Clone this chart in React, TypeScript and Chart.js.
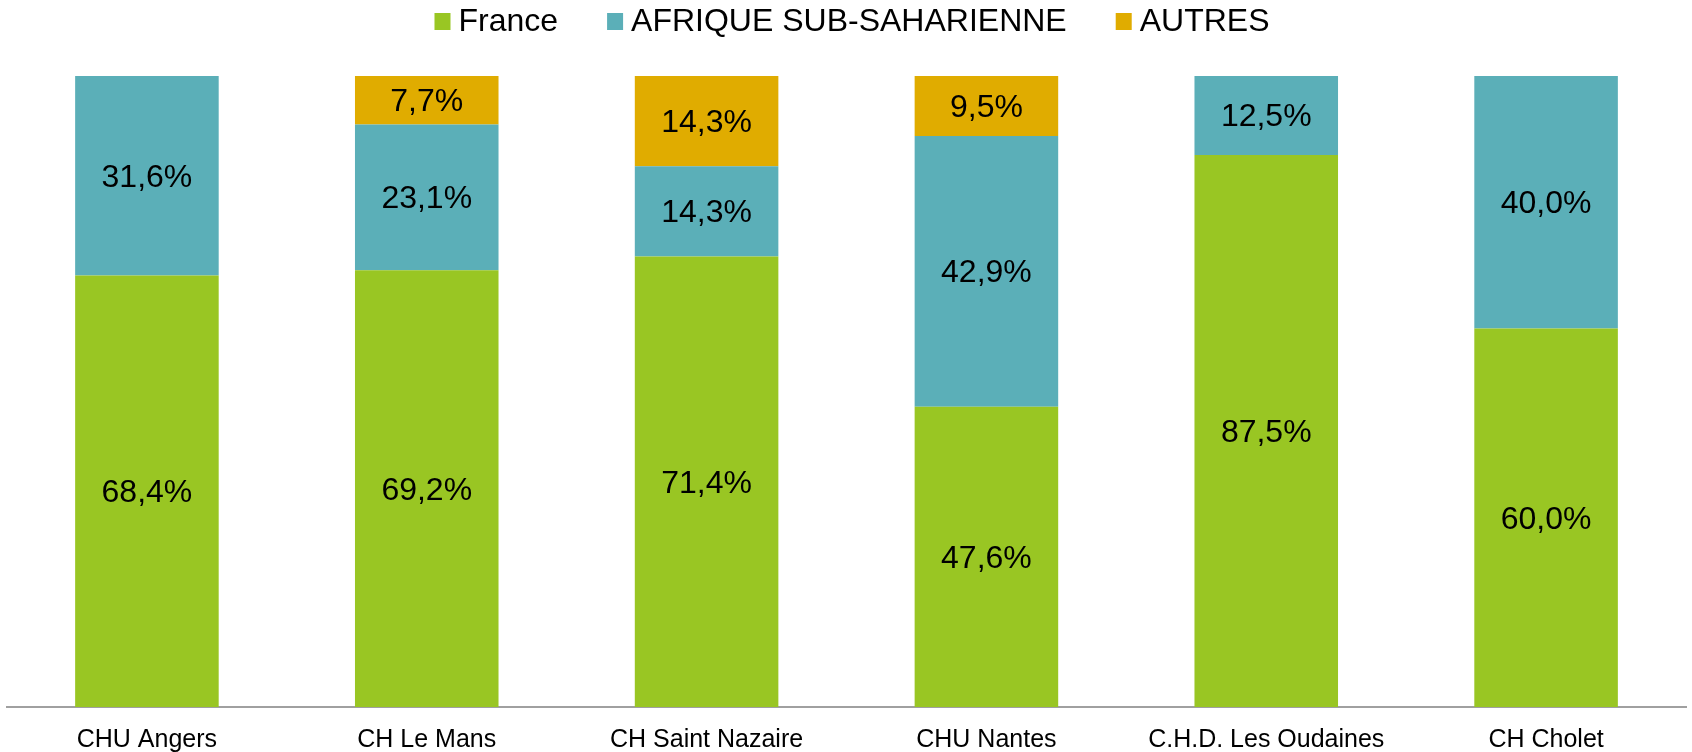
import React, { useEffect, useRef } from "react";
import { Chart, registerables } from "chart.js";

Chart.register(...registerables);

const categories = ["CHU Angers", "CH Le Mans", "CH Saint Nazaire", "CHU Nantes", "C.H.D. Les Oudaines", "CH Cholet"];
const seriesNames = ["France", "AFRIQUE SUB-SAHARIENNE", "AUTRES"];
const franceValues = [68.4, 69.2, 71.4, 47.6, 87.5, 60.0];
const afriqueValues = [31.6, 23.1, 14.3, 42.9, 12.5, 40.0];
const autresValues = [0, 7.7, 14.3, 9.5, 0, 0];
const seriesColors = ["#99C623", "#5BAFB8", "#E0AC00"];

const FONT = "'Liberation Sans', Arial, Helvetica, sans-serif";

const valueLabelPlugin = {
  id: "valueLabels",
  afterDatasetsDraw(chart: any) {
    const ctx = chart.ctx;
    ctx.save();
    ctx.font = `32px ${FONT}`;
    ctx.fillStyle = "#000000";
    ctx.textAlign = "center";
    ctx.textBaseline = "middle";
    chart.data.datasets.forEach((ds: any, i: number) => {
      const meta = chart.getDatasetMeta(i);
      meta.data.forEach((bar: any, j: number) => {
        const v = ds.data[j];
        if (!v) return;
        const y = (bar.y + bar.base) / 2;
        ctx.fillText(v.toFixed(1).replace(".", ",") + "%", bar.x, y + 2);
      });
    });
    ctx.restore();
  },
};

const customLegendPlugin = {
  id: "customLegend",
  afterDraw(chart: any) {
    const ctx = chart.ctx;
    ctx.save();
    ctx.font = `32px ${FONT}`;
    ctx.textBaseline = "alphabetic";
    ctx.textAlign = "left";
    const box = 16;
    const textGap = 24;
    const itemGap = 49;
    const items = chart.data.datasets.map((ds: any) => ({
      label: ds.label,
      color: ds.backgroundColor,
      w: ctx.measureText(ds.label).width,
    }));
    const total = items.reduce((s: number, it: any) => s + textGap + it.w, 0) + itemGap * (items.length - 1);
    let x = 852 - total / 2;
    items.forEach((it: any) => {
      ctx.fillStyle = it.color;
      ctx.fillRect(x, 13, box, 17);
      ctx.fillStyle = "#000000";
      ctx.fillText(it.label, x + textGap, 31);
      x += textGap + it.w + itemGap;
    });
    ctx.restore();
  },
};

export default function App() {
  const canvasRef = useRef<HTMLCanvasElement | null>(null);

  useEffect(() => {
    if (!canvasRef.current) return;
    const chart = new Chart(canvasRef.current, {
      type: "bar",
      data: {
        labels: categories,
        datasets: [
          { label: seriesNames[0], data: franceValues, backgroundColor: seriesColors[0] },
          { label: seriesNames[1], data: afriqueValues, backgroundColor: seriesColors[1] },
          { label: seriesNames[2], data: autresValues, backgroundColor: seriesColors[2] },
        ],
      },
      options: {
        responsive: true,
        maintainAspectRatio: false,
        animation: false,
        datasets: {
          bar: { categoryPercentage: 1, barPercentage: 0.513 },
        },
        layout: { padding: { left: 7, right: 6, top: 76, bottom: 0 } },
        scales: {
          x: {
            stacked: true,
            grid: { display: false, drawTicks: false },
            border: { display: true, color: "#A0A0A0", width: 2 },
            ticks: {
              color: "#000000",
              font: { family: FONT, size: 25, lineHeight: 0.92 },
              padding: 22,
              maxRotation: 0,
              autoSkip: false,
            },
            afterFit(scale: any) {
              scale.height = 45;
            },
          },
          y: {
            stacked: true,
            display: false,
            min: 0,
            max: 100,
          },
        },
        plugins: {
          legend: { display: false },
          tooltip: { enabled: false },
        },
      },
      plugins: [valueLabelPlugin, customLegendPlugin],
    });
    return () => chart.destroy();
  }, []);

  return (
    <div style={{ position: "absolute", left: 0, top: 0, width: 1692, height: 752, background: "#ffffff" }}>
      <canvas ref={canvasRef} />
    </div>
  );
}
